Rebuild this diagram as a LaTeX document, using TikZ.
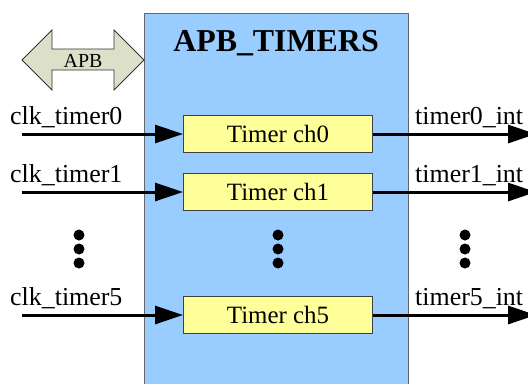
\documentclass[tikz,border=0pt]{standalone}
\usepackage{fontspec}
\setmainfont{Liberation Serif}
\usetikzlibrary{arrows.meta}
\definecolor{blockblue}{HTML}{99CCFF}
\definecolor{chyellow}{HTML}{FFFF99}
\definecolor{apbgreen}{HTML}{DCE0C8}
\tikzset{
  sig/.style={line width=3bp,-{Triangle[length=28bp,width=18bp]}},
  chbox/.style={draw=black!75,fill=chyellow,line width=1bp,minimum width=189bp,minimum height=37bp,inner sep=0pt,font=\fontsize{25}{30}\selectfont},
  lbl/.style={anchor=base west,inner sep=0pt,font=\fontsize{26}{30}\selectfont},
  vdot/.style={circle,fill=black,inner sep=0pt,minimum size=11bp}
}
\begin{document}
\begin{tikzpicture}[x=1bp,y=-1bp]
      \useasboundingbox (0,0) rectangle (528,383);
      \clip (0,0) rectangle (528,383);
      \node (timers) [draw=black!60,fill=blockblue,line width=1bp,anchor=north west,minimum width=264bp,minimum height=390bp,inner sep=0pt] at (144,13) {}; % block
      \node (title) [anchor=base,inner sep=0pt,font=\fontsize{32}{36}\selectfont\bfseries] at (276,51) {APB\_TIMERS}; % block name
      \draw[draw=black!80,fill=apbgreen,line width=0.8bp] (22,60) -- (52,30) -- (52,49) -- (114,49) -- (114,30) -- (144,60) -- (114,90) -- (114,70) -- (52,70) -- (52,90) -- cycle; % bus arrow
      \node (apb) [anchor=base,inner sep=0pt,font=\fontsize{20}{24}\selectfont] at (83,67) {APB}; % bus label
      \node (ch0) [chbox] at (278,134) {Timer ch0}; % channel 0
      \node (ch1) [chbox] at (278,192) {Timer ch1}; % channel 1
      \node (ch5) [chbox] at (278,315) {Timer ch5}; % channel 5
      \coordinate (in0) at (22,134);
      \coordinate (in1) at (22,192);
      \coordinate (in5) at (22,315);
      \coordinate (out0) at (536,134);
      \coordinate (out1) at (536,192);
      \coordinate (out5) at (536,315);
      \draw[sig] (in0) -- (ch0); % clock inputs
      \draw[sig] (in1) -- (ch1);
      \draw[sig] (in5) -- (ch5);
      \draw[sig] (ch0) -- (out0); % interrupt outputs
      \draw[sig] (ch1) -- (out1);
      \draw[sig] (ch5) -- (out5);
      \node (clk0) [lbl] at (10,124) {clk\_timer0}; % input labels
      \node (clk1) [lbl] at (10,182) {clk\_timer1};
      \node (clk5) [lbl] at (10,305) {clk\_timer5};
      \node (int0) [lbl] at (415,124) {timer0\_int}; % output labels
      \node (int1) [lbl] at (415,182) {timer1\_int};
      \node (int5) [lbl] at (415,305) {timer5\_int};
      \foreach \x/\n in {79/l,278/m,465/r}{
        \node (dot\n a) [vdot] at (\x,235) {}; % ellipsis dots
        \node (dot\n b) [vdot] at (\x,249) {};
        \node (dot\n c) [vdot] at (\x,263) {};
      }
   \end{tikzpicture}
\end{document}
